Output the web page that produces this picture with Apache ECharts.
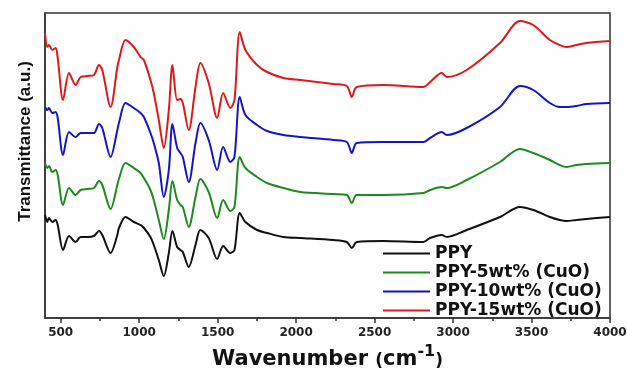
<!DOCTYPE html>
<html lang="en">
<head>
	<meta charset="UTF-8">
	<title>FTIR</title>
	<style>
		body { margin: 0; background: #fff; }
	</style>
</head>
<body>
	<div id="main" style="width: 627px;height: 371px"></div>
	<script src="https://cdn.jsdelivr.net/npm/echarts@6/dist/echarts.min.js"></script>
	<script>
		// wavenumbers (cm-1) shared by every spectrum
		var wavenumber = [400, 415, 425, 447, 468, 481, 515, 553, 595, 627, 670, 712, 744, 765, 818, 861, 871, 913, 966, 1009,
			1030, 1072, 1093, 1125, 1157, 1189, 1212, 1242, 1263, 1278, 1316, 1359, 1390, 1443, 1497, 1535, 1581, 1607, 1641, 1677,
			1751, 1815, 1920, 2027, 2238, 2323, 2355, 2386, 2556, 2811, 2854, 2928, 2960, 3087, 3299, 3426, 3511, 3617, 3680, 3723,
			3786, 3850, 4000];

		// transmittance, arbitrary units (curves stacked with offsets)
		var ppy = [103, 96, 100, 96, 98, 93, 68, 82, 76, 81, 81, 82, 87, 83, 65, 83, 90, 101, 96, 93,
			90, 81, 73, 58, 42, 65, 87, 71, 68, 66, 51, 73, 88, 80, 59, 72, 65, 68, 105, 96,
			88, 85, 81, 80, 78, 76, 70, 76, 77, 76, 80, 83, 81, 88, 101, 111, 108, 101, 98, 97,
			98, 99, 101];
		var ppy5 = [155, 150, 152, 146, 148, 143, 113, 130, 123, 128, 129, 130, 137, 133, 109, 133, 139, 155, 150, 145,
			140, 128, 118, 98, 79, 108, 137, 118, 113, 111, 91, 121, 139, 126, 100, 118, 107, 111, 161, 150,
			141, 135, 130, 126, 124, 123, 115, 123, 123, 125, 128, 131, 130, 138, 156, 169, 165, 158, 153, 151,
			153, 154, 155];
		var ppy10 = [211, 208, 210, 205, 206, 200, 163, 186, 181, 185, 185, 185, 194, 190, 161, 188, 195, 215, 210, 205,
			201, 185, 175, 155, 121, 148, 194, 170, 165, 161, 136, 175, 195, 178, 148, 171, 156, 161, 221, 203,
			193, 187, 183, 181, 178, 176, 165, 175, 176, 176, 180, 186, 183, 190, 211, 232, 228, 215, 211, 211,
			212, 214, 215];
		var ppy15 = [285, 271, 273, 268, 270, 260, 218, 245, 233, 241, 242, 243, 253, 248, 211, 251, 258, 278, 271, 261,
			258, 238, 225, 198, 170, 208, 253, 218, 219, 215, 188, 231, 255, 235, 200, 225, 210, 218, 286, 268,
			253, 246, 240, 238, 234, 232, 221, 231, 233, 231, 236, 245, 241, 248, 275, 297, 293, 278, 273, 271,
			273, 275, 277];

		var names = ['PPY', 'PPY-5wt% (CuO)', 'PPY-10wt% (CuO)', 'PPY-15wt% (CuO)'];
		var colors = ['#111111', '#1e8a1e', '#1414c8', '#e01818'];
		var majorTicks = [500, 1000, 1500, 2000, 2500, 3000, 3500, 4000];
		var minorTicks = [750, 1250, 1750, 2250, 2750, 3250, 3750];

		function pairs(ys) {
			return wavenumber.map(function (w, i) { return [w, ys[i]]; });
		}
		var allY = [ppy, ppy5, ppy10, ppy15];
		var bold = { fontFamily: 'DejaVu Sans', fontWeight: 'bold', color: '#111' };

		var myChart = echarts.init(document.getElementById('main'));
		var option = {
			backgroundColor: '#fff',
			animation: false,
			color: colors,
			grid: {
				left: 45, right: 17, top: 13, bottom: 53,
				outerBoundsMode: 'none',
				show: true, borderColor: '#333', borderWidth: 1.5
			},
			legend: {
				orient: 'vertical',
				left: 383, top: 245, padding: 0,
				itemWidth: 47, itemHeight: 2, itemGap: 2,
				icon: 'rect',
				data: names,
				textStyle: {
					fontFamily: 'DejaVu Sans', fontWeight: 'bold', fontSize: 17,
					color: '#111', lineHeight: 17
				}
			},
			xAxis: [{
				type: 'value', min: 400, max: 4000,
				name: '{a|Wavenumber }{b|(}{a|cm}{c|-1}{b|)}',
				nameLocation: 'middle', nameGap: 17,
				nameTextStyle: {
					rich: {
						a: Object.assign({ fontSize: 21, verticalAlign: 'bottom' }, bold),
						b: Object.assign({ fontSize: 17, verticalAlign: 'bottom' }, bold),
						c: Object.assign({ fontSize: 16, verticalAlign: 'top', padding: [0, 0, 10, 0] }, bold)
					}
				},
				axisLine: { lineStyle: { color: '#333', width: 1.5 } },
				axisTick: { customValues: majorTicks, length: 5, lineStyle: { color: '#333', width: 1.5 } },
				axisLabel: {
					customValues: majorTicks, margin: 9,
					formatter: function (v) { return String(v); },
					fontFamily: 'DejaVu Sans', fontWeight: 'bold', fontSize: 12, color: '#222'
				},
				splitLine: { show: false }
			}, {
				type: 'value', min: 400, max: 4000, position: 'bottom',
				axisLine: { show: false },
				axisTick: { customValues: minorTicks, length: 3, lineStyle: { color: '#333', width: 1.5 } },
				axisLabel: { show: false },
				splitLine: { show: false }
			}],
			yAxis: {
				type: 'value', min: 0, max: 305,
				name: 'Transmittance (a.u.)',
				nameLocation: 'middle', nameGap: 11, nameRotate: 90,
				nameTextStyle: {
					fontFamily: 'Liberation Sans', fontWeight: 'bold', fontSize: 17, color: '#111',
					padding: [0, 0, 0, 48]
				},
				axisLine: { show: true, lineStyle: { color: '#333', width: 1.5 } },
				axisTick: { show: false },
				axisLabel: { show: false },
				splitLine: { show: false }
			},
			series: names.map(function (n, k) {
				return {
					name: n,
					type: 'line',
					data: pairs(allY[k]),
					smooth: 0.3,
					showSymbol: false,
					lineStyle: { width: 2 }
				};
			})
		};
		myChart.setOption(option);
	</script>
</body>
</html>
